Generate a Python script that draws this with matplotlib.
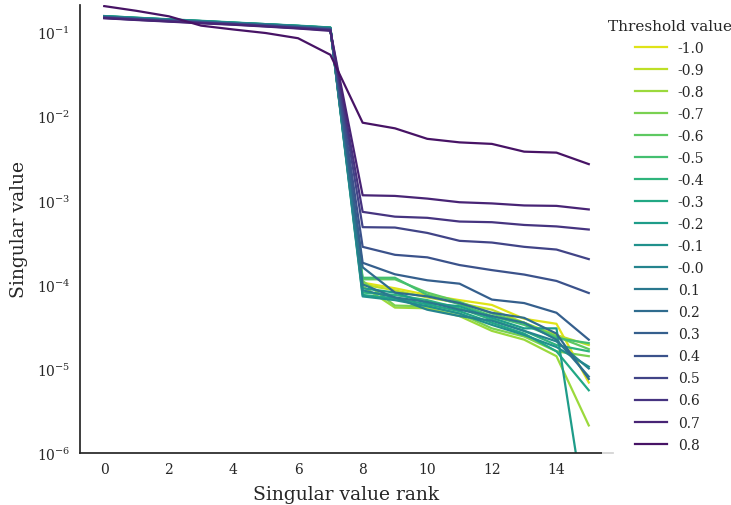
import numpy as np
import pandas as pd
import matplotlib
matplotlib.use("Agg")
import matplotlib.pyplot as plt

# ---------------- data ----------------
rank = list(range(16))
thresholds = ["-1.0", "-0.9", "-0.8", "-0.7", "-0.6", "-0.5", "-0.4", "-0.3", "-0.2",
              "-0.1", "-0.0", "0.1", "0.2", "0.3", "0.4", "0.5", "0.6", "0.7", "0.8"]

sv_m10 = [0.150, 0.144, 0.138, 0.132, 0.126, 0.121, 0.116, 0.110,
          1.05e-4, 9.0e-5, 7.5e-5, 6.5e-5, 5.7e-5, 3.9e-5, 3.4e-5, 6.8e-6]
sv_m09 = [0.151, 0.145, 0.139, 0.133, 0.127, 0.122, 0.117, 0.111,
          1.0e-4, 8.5e-5, 7.0e-5, 6.0e-5, 5.0e-5, 3.5e-5, 2.5e-5, 1.9e-5]
sv_m08 = [0.152, 0.145, 0.139, 0.133, 0.128, 0.122, 0.117, 0.111,
          9.5e-5, 5.3e-5, 5.2e-5, 4.2e-5, 2.8e-5, 2.2e-5, 1.4e-5, 2.1e-6]
sv_m07 = [0.152, 0.146, 0.140, 0.134, 0.128, 0.123, 0.118, 0.112,
          1.1e-4, 5.6e-5, 5.5e-5, 4.5e-5, 3.0e-5, 2.4e-5, 1.6e-5, 1.4e-5]
sv_m06 = [0.153, 0.146, 0.140, 0.134, 0.129, 0.123, 0.118, 0.112,
          1.15e-4, 1.15e-4, 8.0e-5, 6.2e-5, 4.5e-5, 3.5e-5, 2.4e-5, 1.7e-5]
sv_m05 = [0.154, 0.147, 0.141, 0.135, 0.129, 0.124, 0.119, 0.113,
          1.2e-4, 1.2e-4, 7.5e-5, 5.8e-5, 4.2e-5, 3.3e-5, 2.3e-5, 2.0e-5]
sv_m04 = [0.155, 0.148, 0.142, 0.136, 0.130, 0.124, 0.119, 0.113,
          8.0e-5, 7.5e-5, 6.5e-5, 5.2e-5, 3.8e-5, 2.8e-5, 1.9e-5, 1.6e-5]
sv_m03 = [0.156, 0.149, 0.142, 0.136, 0.130, 0.125, 0.119, 0.114,
          7.5e-5, 6.8e-5, 5.8e-5, 4.8e-5, 3.5e-5, 2.6e-5, 1.6e-5, 5.5e-6]
sv_m02 = [0.156, 0.149, 0.143, 0.137, 0.131, 0.125, 0.120, 0.114,
          9.0e-5, 8.0e-5, 6.0e-5, 5.5e-5, 4.0e-5, 3.0e-5, 3.0e-5, 1.0e-7]
sv_m01 = [0.155, 0.148, 0.142, 0.136, 0.130, 0.125, 0.119, 0.113,
          7.2e-5, 6.5e-5, 5.5e-5, 4.5e-5, 3.3e-5, 2.5e-5, 1.8e-5, 1.05e-5]
sv_m00 = [0.154, 0.147, 0.141, 0.135, 0.129, 0.124, 0.118, 0.112,
          8.5e-5, 7.0e-5, 5.0e-5, 4.2e-5, 3.7e-5, 2.8e-5, 2.1e-5, 1.0e-5]
sv_p01 = [0.153, 0.146, 0.140, 0.134, 0.128, 0.123, 0.117, 0.111,
          1.0e-4, 7.0e-5, 6.2e-5, 5.0e-5, 4.2e-5, 3.5e-5, 2.2e-5, 8.0e-6]
sv_p02 = [0.152, 0.145, 0.139, 0.133, 0.127, 0.122, 0.116, 0.110,
          1.6e-4, 8.0e-5, 7.2e-5, 6.0e-5, 4.6e-5, 4.0e-5, 2.6e-5, 7.5e-6]
sv_p03 = [0.151, 0.144, 0.138, 0.132, 0.126, 0.121, 0.115, 0.109,
          1.81e-4, 1.32e-4, 1.12e-4, 1.02e-4, 6.6e-5, 6.0e-5, 4.6e-5, 2.2e-5]
sv_p04 = [0.150, 0.143, 0.137, 0.131, 0.126, 0.120, 0.114, 0.108,
          2.8e-4, 2.25e-4, 2.1e-4, 1.7e-4, 1.48e-4, 1.31e-4, 1.1e-4, 7.9e-5]
sv_p05 = [0.149, 0.142, 0.136, 0.130, 0.125, 0.119, 0.113, 0.107,
          4.8e-4, 4.75e-4, 4.1e-4, 3.3e-4, 3.15e-4, 2.8e-4, 2.6e-4, 2.0e-4]
sv_p06 = [0.148, 0.141, 0.135, 0.129, 0.124, 0.118, 0.112, 0.106,
          7.3e-4, 6.4e-4, 6.2e-4, 5.6e-4, 5.5e-4, 5.1e-4, 4.9e-4, 4.5e-4]
sv_p07 = [0.147, 0.140, 0.134, 0.128, 0.123, 0.117, 0.111, 0.104,
          1.15e-3, 1.13e-3, 1.05e-3, 9.5e-4, 9.2e-4, 8.7e-4, 8.6e-4, 7.8e-4]
sv_p08 = [0.205, 0.180, 0.155, 0.120, 0.108, 0.098, 0.085, 0.054,
          8.4e-3, 7.2e-3, 5.4e-3, 4.9e-3, 4.7e-3, 3.8e-3, 3.7e-3, 2.7e-3]

series = [sv_m10, sv_m09, sv_m08, sv_m07, sv_m06, sv_m05, sv_m04, sv_m03, sv_m02,
          sv_m01, sv_m00, sv_p01, sv_p02, sv_p03, sv_p04, sv_p05, sv_p06, sv_p07, sv_p08]

df = pd.DataFrame({
    "rank": np.tile(rank, len(thresholds)),
    "threshold": np.repeat(thresholds, len(rank)),
    "value": np.concatenate(series),
})

# ---------------- style ----------------
plt.rcParams.update({
    "font.family": "DejaVu Serif",
    "text.color": "#262626",
    "axes.labelcolor": "#262626",
    "xtick.color": "#262626",
    "ytick.color": "#262626",
    "axes.edgecolor": "#262626",
    "axes.linewidth": 1.25,
    "mathtext.fontset": "dejavuserif",
})

cmap = matplotlib.colormaps["viridis"]
colors = cmap(np.linspace(0, 1, len(thresholds) + 2)[1:-1])[::-1]

fig = plt.figure(figsize=(7.31, 5.06), dpi=100)
ax = fig.add_axes([80 / 731, 1 - 453.5 / 506, (613 - 80) / 731, (453.5 - 5.7) / 506])

for th, c in zip(thresholds, colors):
    sub = df[df["threshold"] == th]
    ax.plot(sub["rank"], sub["value"], color=c, lw=1.6, label=th)

ax.set_yscale("log")
ax.set_ylim(1e-6, 0.213)
ax.set_xticks([0, 2, 4, 6, 8, 10, 12, 14])
ax.tick_params(axis="both", which="both", length=0, labelsize=10, pad=7)
ax.minorticks_off()
ax.set_xlabel("Singular value rank", fontsize=13.5, labelpad=6)
ax.set_ylabel("Singular value", fontsize=13.5, labelpad=6)
for s in ["top", "right"]:
    ax.spines[s].set_visible(False)

leg = fig.legend(loc="upper left", bbox_to_anchor=(602 / 731, 1 - 14 / 506),
                 title="Threshold value", fontsize=10, title_fontsize=11,
                 frameon=True, framealpha=0.8, edgecolor="none", facecolor="white",
                 borderaxespad=0, handlelength=2.3, labelspacing=0.58)
leg.get_frame().set_linewidth(0)

fig.savefig("out.png", dpi=100)
